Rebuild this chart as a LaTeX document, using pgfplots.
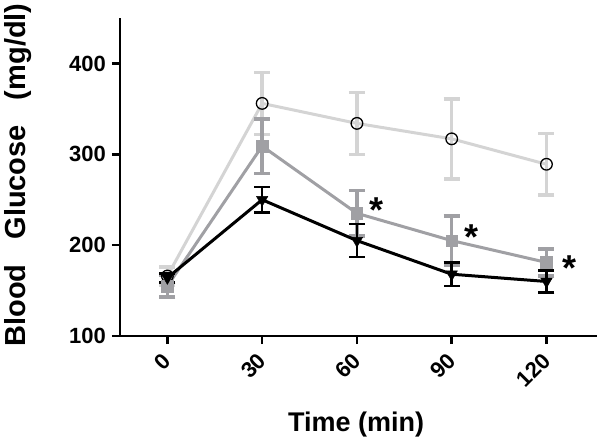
\documentclass[border=0pt]{standalone}
\usepackage{fontspec}
\setmainfont{Liberation Sans}
\usepackage{pgfplots}
\pgfplotsset{compat=1.18}
\definecolor{lgray}{RGB}{212,212,212}
\definecolor{mgray}{RGB}{160,160,164}
\begin{document}
\begin{tikzpicture}[x=1pt,y=1pt]
\useasboundingbox (-120,-103) rectangle (480,336);
\begin{axis}[
  at={(0,0)}, anchor=south west,
  scale only axis, width=477pt, height=318pt,
  xmin=-15, xmax=136, ymin=100, ymax=450,
  axis x line*=bottom, axis y line*=left,
  axis line style={line width=2.5pt, -},
  xtick={0,30,60,90,120}, ytick={100,200,300,400},
  tick style={line width=2.5pt, black},
  tick align=outside, major tick length=8pt,
  minor tick num=0,
  /pgf/number format/assume math mode=true,
  ticklabel style={font=\fontsize{22}{24}\selectfont\bfseries},
  xticklabel style={yshift=-13pt, xshift=0pt, rotate=45, anchor=east, inner sep=0pt},
  yticklabel style={inner sep=0pt, xshift=-6pt},
  xlabel={Time (min)},
  ylabel={Blood\hspace{25pt}Glucose\hspace{25pt}(mg/dl)},
  xlabel style={font=\fontsize{27}{30}\selectfont\bfseries, at={(axis description cs:0.495,-0.301)}, anchor=base},
  ylabel style={font=\fontsize{29}{32}\selectfont\bfseries, at={(axis description cs:-0.199,0.506)}, anchor=base},
  clip=false,
]
% light gray, open circles
\addplot[color=lgray, line width=3pt, mark=o,
  mark options={draw=black, fill=white, line width=1.3pt, mark size=5.8pt},
  error bars/.cd, y dir=both, y explicit,
  error bar style={line width=3.5pt, color=lgray},
  error mark options={rotate=90, mark size=8pt, line width=3.5pt, color=lgray}]
  table[x=x, y=y, y error=e] {
x y e
0 166 10
30 356 34
60 334 34
90 317 44
120 289 34
};
% mid gray, squares
\addplot[color=mgray, line width=3pt, mark=square*,
  mark options={draw=mgray, fill=mgray, line width=0.5pt, mark size=5.8pt},
  error bars/.cd, y dir=both, y explicit,
  error bar style={line width=3.5pt, color=mgray},
  error mark options={rotate=90, mark size=8pt, line width=3.5pt, color=mgray}]
  table[x=x, y=y, y error=e] {
x y e
0 155 12
30 309 30
60 235 25
90 205 27
120 181 15
};
% black, down triangles
\addplot[color=black, line width=3pt, mark=triangle*,
  mark options={draw=black, fill=black, rotate=180, line width=0.5pt, mark size=6.5pt},
  error bars/.cd, y dir=both, y explicit,
  error bar style={line width=2.5pt, color=black},
  error mark options={rotate=90, mark size=8pt, line width=2.5pt, color=black}]
  table[x=x, y=y, y error=e] {
x y e
0 164 5
30 250 14
60 205 18
90 168 13
120 160 12
};
\node[font=\fontsize{36}{38}\selectfont\bfseries, anchor=base, yshift=-21pt] at (axis cs:66.3,248) {*};
\node[font=\fontsize{36}{38}\selectfont\bfseries, anchor=base, yshift=-21pt] at (axis cs:96.3,218) {*};
\node[font=\fontsize{36}{38}\selectfont\bfseries, anchor=base, yshift=-21pt] at (axis cs:127.4,184) {*};
\end{axis}
\end{tikzpicture}
\end{document}
